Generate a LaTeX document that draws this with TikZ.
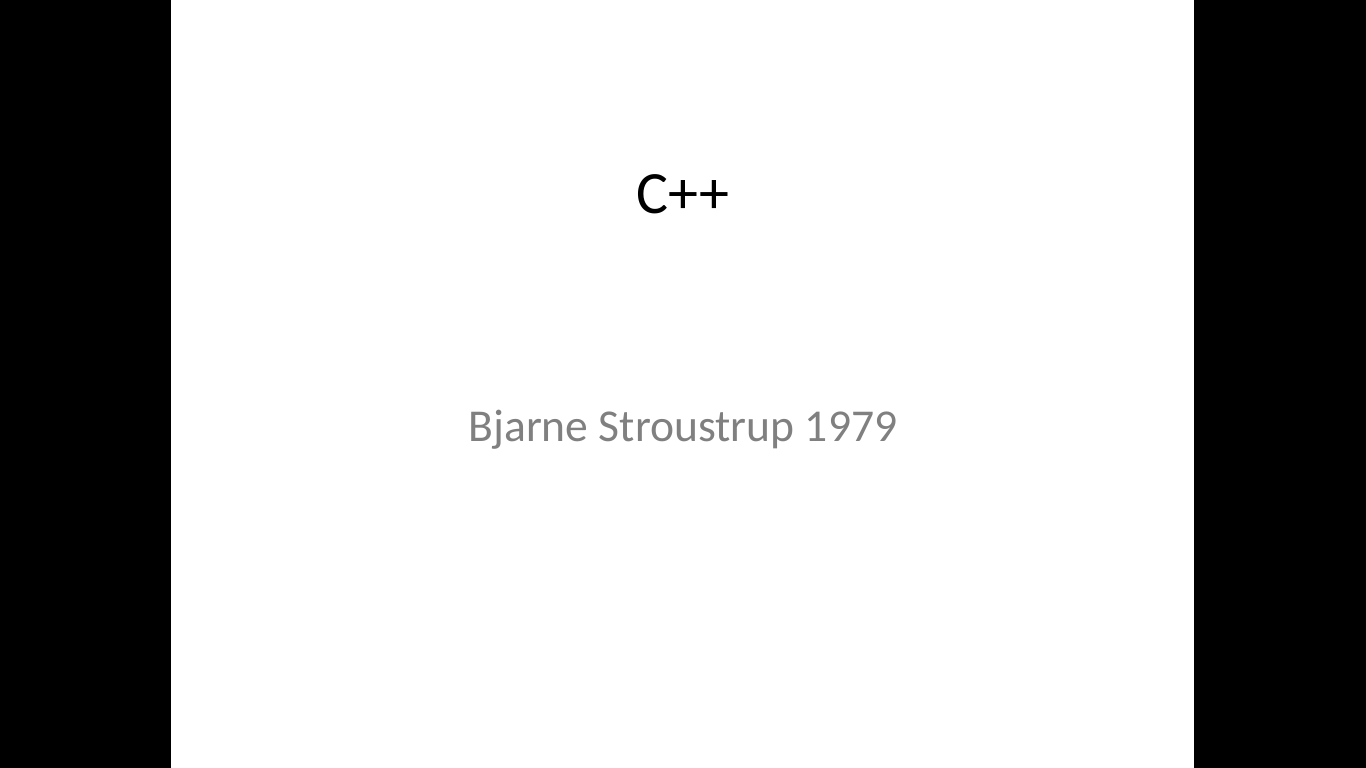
\documentclass[tikz,border=0pt]{standalone}
\usepackage{fontspec}
\setmainfont{Carlito}
\usepackage{tikz}
\definecolor{subgray}{RGB}{128,128,128}

\begin{document}
\begin{tikzpicture}[x=1pt,y=-1pt]
	% draw screen and slide
	\fill[black] (0,0) rectangle (1366,768);
	\fill[white] (171,0) rectangle (1194,768);
	\useasboundingbox (0,0) rectangle (1366,768);
	% title
	\node[anchor=base,inner sep=0pt,font=\fontsize{60}{72}\selectfont] (title) at (683,213) {C++};
	% subtitle
	\node[anchor=base,inner sep=0pt,text=subgray,font=\fontsize{45.6}{55}\selectfont] (subtitle) at (683,441) {Bjarne Stroustrup 1979};
\end{tikzpicture}
\end{document}
